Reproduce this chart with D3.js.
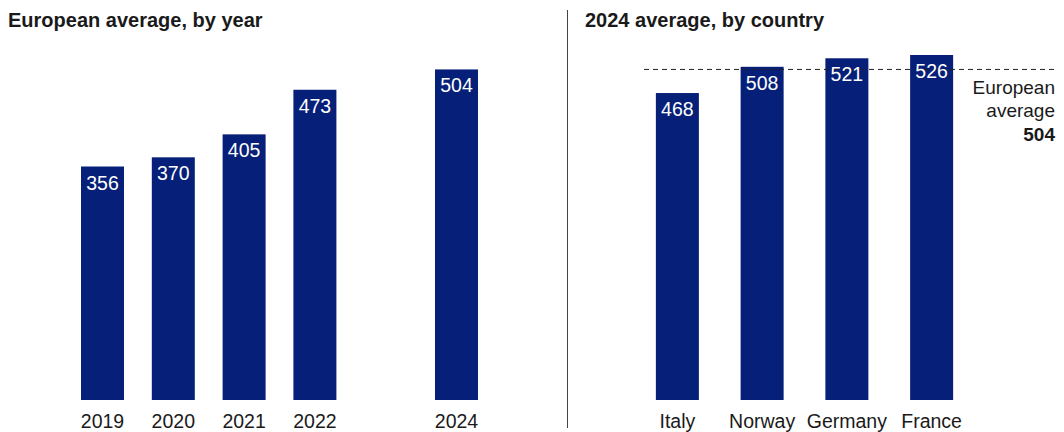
<!DOCTYPE html>
<html>
<head>
<meta charset="utf-8">
<script src="https://cdn.jsdelivr.net/npm/d3@7"></script>
<style>
  body { margin: 0; background: #fff; }
  text { font-family: "Liberation Sans", Arial, sans-serif; }
</style>
</head>
<body>
<div id="chart"></div>
<script>
// Data
const years = [2019, 2020, 2021, 2022, 2024];
const yearValues = [356, 370, 405, 473, 504];
const countries = ["Italy", "Norway", "Germany", "France"];
const countryValues = [468, 508, 521, 526];
const europeanAverage = 504;

const width = 1064;
const height = 432;
const barColor = "#061f78";
const textColor = "#1a1a1a";
const barWidth = 43;

const svg = d3.select("#chart")
    .append("svg")
    .attr("width", width)
    .attr("height", height);

// shared vertical scale
const y = d3.scaleLinear()
    .domain([0, 526])
    .range([400, 55]);

// Left panel: by year
const xYear = d3.scaleLinear()
    .domain([2019, 2024])
    .range([102.5, 456.5]);

svg.append("text")
    .attr("x", 8)
    .attr("y", 27)
    .attr("font-size", 20)
    .attr("font-weight", "bold")
    .attr("fill", textColor)
    .text("European average, by year");

const left = svg.append("g");

left.selectAll("rect")
    .data(years)
    .enter().append("rect")
    .attr("x", d => xYear(d) - barWidth / 2)
    .attr("y", (d, i) => y(yearValues[i]))
    .attr("width", barWidth)
    .attr("height", (d, i) => y(0) - y(yearValues[i]))
    .attr("fill", barColor);

left.selectAll("text.val")
    .data(years)
    .enter().append("text")
    .attr("class", "val")
    .attr("x", d => xYear(d))
    .attr("y", (d, i) => y(yearValues[i]) + 23)
    .attr("text-anchor", "middle")
    .attr("font-size", 19.5)
    .attr("fill", "#fff")
    .text((d, i) => yearValues[i]);

left.selectAll("text.cat")
    .data(years)
    .enter().append("text")
    .attr("class", "cat")
    .attr("x", d => xYear(d))
    .attr("y", 428)
    .attr("text-anchor", "middle")
    .attr("font-size", 19.5)
    .attr("fill", textColor)
    .text(d => d);

// divider
svg.append("line")
    .attr("x1", 567.5).attr("x2", 567.5)
    .attr("y1", 10).attr("y2", 428)
    .attr("stroke", "#444")
    .attr("stroke-width", 1);

// Right panel: by country
const xCountry = d3.scaleBand()
    .domain(countries)
    .range([635, 974])
    .paddingInner(0.49)
    .paddingOuter(0.245);

svg.append("text")
    .attr("x", 585)
    .attr("y", 27)
    .attr("font-size", 20)
    .attr("font-weight", "bold")
    .attr("fill", textColor)
    .text("2024 average, by country");

const right = svg.append("g");

right.selectAll("rect")
    .data(countries)
    .enter().append("rect")
    .attr("x", d => xCountry(d) + xCountry.bandwidth() / 2 - barWidth / 2)
    .attr("y", (d, i) => y(countryValues[i]))
    .attr("width", barWidth)
    .attr("height", (d, i) => y(0) - y(countryValues[i]))
    .attr("fill", barColor);

// average line
right.append("line")
    .attr("x1", 644).attr("x2", 1056)
    .attr("y1", y(europeanAverage)).attr("y2", y(europeanAverage))
    .attr("stroke", "#222")
    .attr("stroke-width", 1)
    .attr("stroke-dasharray", "5,4");

right.selectAll("text.val")
    .data(countries)
    .enter().append("text")
    .attr("class", "val")
    .attr("x", d => xCountry(d) + xCountry.bandwidth() / 2)
    .attr("y", (d, i) => y(countryValues[i]) + 23)
    .attr("text-anchor", "middle")
    .attr("font-size", 19.5)
    .attr("fill", "#fff")
    .text((d, i) => countryValues[i]);

right.selectAll("text.cat")
    .data(countries)
    .enter().append("text")
    .attr("class", "cat")
    .attr("x", d => xCountry(d) + xCountry.bandwidth() / 2)
    .attr("y", 428)
    .attr("text-anchor", "middle")
    .attr("font-size", 19.5)
    .attr("fill", textColor)
    .text(d => d);

// average label
const avgLabel = right.append("text")
    .attr("text-anchor", "end")
    .attr("font-size", 19)
    .attr("fill", textColor);
avgLabel.append("tspan").attr("x", 1055).attr("y", 93.5).text("European");
avgLabel.append("tspan").attr("x", 1055).attr("y", 117).text("average");
avgLabel.append("tspan").attr("x", 1055).attr("y", 140.5)
    .attr("font-weight", "bold").text(europeanAverage);
</script>
</body>
</html>
